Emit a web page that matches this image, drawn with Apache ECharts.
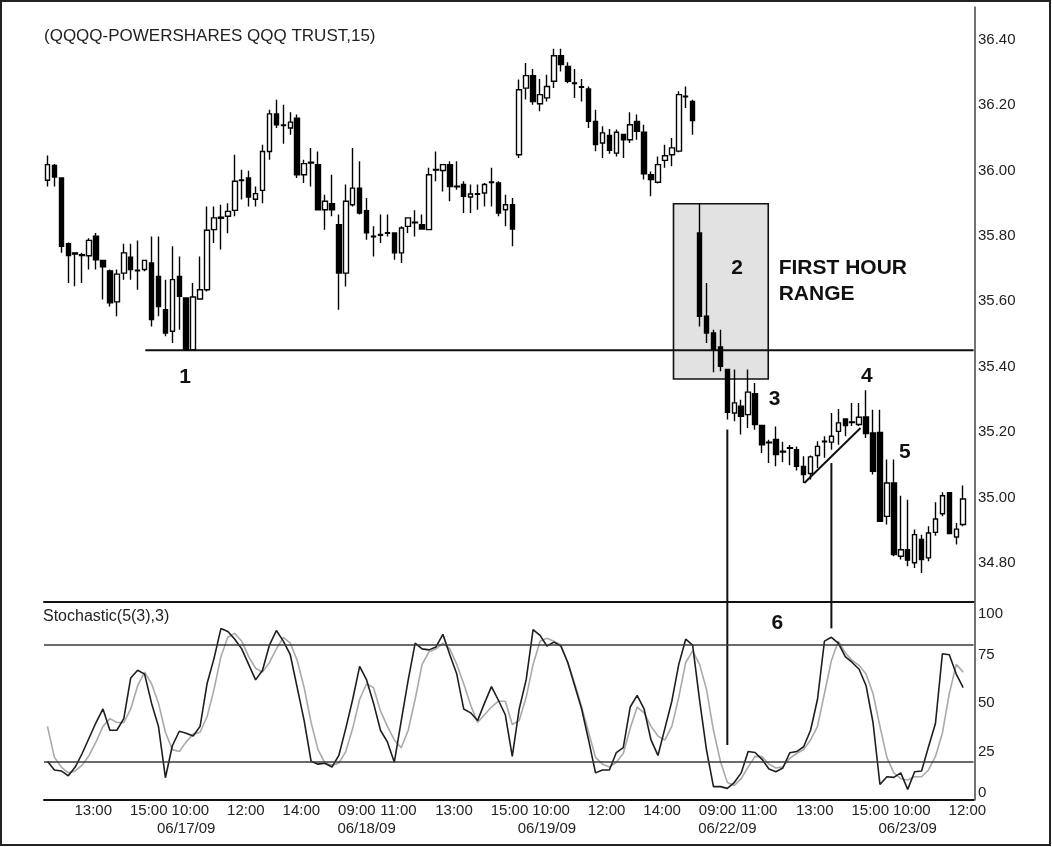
<!DOCTYPE html>
<html><head><meta charset="utf-8">
<script src="https://cdn.jsdelivr.net/npm/echarts@6/dist/echarts.min.js"></script>
<style>html,body{margin:0;padding:0;background:#fff}#c{width:1052px;height:847px}</style>
</head><body><div id="c"></div>
<script>
// ---- data (15-minute bars, [open, close, low, high]) ----
const ohlc = [
[35.970,36.018,35.951,36.046],[36.015,35.980,35.951,36.020],[35.977,35.768,35.748,35.977],[35.776,35.740,35.656,35.780],
[35.748,35.744,35.646,35.750],[35.742,35.740,35.656,35.748],[35.739,35.786,35.697,35.793],[35.799,35.727,35.697,35.809],
[35.725,35.705,35.605,35.727],[35.693,35.595,35.584,35.697],[35.598,35.683,35.554,35.697],[35.686,35.748,35.666,35.776],
[35.735,35.697,35.666,35.776],[35.695,35.693,35.635,35.786],[35.697,35.725,35.692,35.727],[35.717,35.544,35.523,35.798],
[35.676,35.584,35.554,35.798],[35.574,35.503,35.493,35.666],[35.508,35.666,35.472,35.768],[35.676,35.615,35.513,35.737],
[35.610,35.452,35.452,35.612],[35.452,35.613,35.452,35.656],[35.607,35.635,35.605,35.737],[35.635,35.817,35.630,35.890],
[35.819,35.855,35.778,35.890],[35.857,35.854,35.758,35.895],[35.860,35.875,35.808,35.900],[35.878,35.967,35.860,36.048],
[35.971,35.969,35.911,36.002],[35.977,35.919,35.890,35.999],[35.912,35.929,35.890,35.951],[35.939,36.058,35.900,36.079],
[36.058,36.173,36.033,36.186],[36.173,36.140,36.130,36.216],[36.139,36.137,36.082,36.201],[36.130,36.148,36.109,36.178],
[36.160,35.987,35.977,36.171],[35.987,36.021,35.962,36.033],[36.025,36.023,35.951,36.069],[36.018,35.880,35.880,36.058],
[35.880,35.906,35.819,35.926],[35.898,35.880,35.860,35.987],[35.834,35.686,35.574,35.865],[35.686,35.906,35.645,35.957],
[35.895,35.946,35.890,36.069],[35.946,35.870,35.865,36.028],[35.877,35.809,35.788,35.916],[35.799,35.797,35.737,35.829],
[35.802,35.804,35.778,35.865],[35.808,35.810,35.798,35.865],[35.809,35.748,35.727,35.809],[35.748,35.824,35.717,35.829],
[35.829,35.855,35.809,35.855],[35.842,35.840,35.798,35.878],[35.834,35.821,35.821,35.865],[35.819,35.987,35.819,36.008],
[36.003,36.001,35.967,36.058],[36.000,36.018,35.936,36.018],[36.018,35.951,35.906,36.028],[35.952,35.950,35.941,36.028],
[35.957,35.921,35.870,35.967],[35.919,35.928,35.870,35.957],[35.929,35.927,35.880,35.957],[35.931,35.957,35.890,35.962],
[35.963,35.965,35.890,36.008],[35.962,35.870,35.860,35.967],[35.880,35.895,35.829,35.926],[35.895,35.821,35.768,35.916],
[36.048,36.247,36.038,36.278],[36.252,36.290,36.217,36.329],[36.290,36.211,36.201,36.310],[36.204,36.232,36.181,36.280],
[36.222,36.257,36.211,36.293],[36.273,36.351,36.252,36.372],[36.351,36.324,36.303,36.372],[36.318,36.273,36.267,36.331],
[36.268,36.266,36.222,36.310],[36.256,36.254,36.211,36.280],[36.249,36.150,36.130,36.257],[36.150,36.079,36.059,36.186],
[36.084,36.115,36.038,36.135],[36.107,36.062,36.051,36.127],[36.053,36.117,36.043,36.125],[36.110,36.094,36.038,36.110],
[36.094,36.140,36.084,36.178],[36.150,36.120,36.094,36.171],[36.117,35.990,35.972,36.140],[35.987,35.972,35.921,35.997],
[35.964,36.018,35.960,36.043],[36.031,36.045,36.008,36.079],[36.048,36.069,36.013,36.099],[36.059,36.232,36.056,36.242],
[36.227,36.225,36.191,36.257],[36.211,36.153,36.109,36.216],[35.809,35.554,35.523,35.898],[35.554,35.503,35.472,35.656],
[35.503,35.452,35.383,35.513],[35.460,35.401,35.386,35.513],[35.391,35.260,35.238,35.391],[35.258,35.289,35.233,35.391],
[35.279,35.248,35.192,35.299],[35.253,35.322,35.212,35.391],[35.317,35.223,35.207,35.350],[35.220,35.161,35.136,35.220],
[35.169,35.167,35.105,35.176],[35.177,35.131,35.095,35.217],[35.141,35.139,35.108,35.170],[35.152,35.150,35.098,35.160],
[35.146,35.095,35.082,35.156],[35.095,35.070,35.044,35.126],[35.073,35.124,35.055,35.128],[35.128,35.156,35.090,35.172],
[35.172,35.170,35.121,35.187],[35.169,35.187,35.146,35.258],[35.202,35.228,35.161,35.270],[35.240,35.220,35.187,35.240],
[35.231,35.229,35.218,35.289],[35.223,35.245,35.218,35.289],[35.246,35.195,35.182,35.328],[35.197,35.080,35.070,35.268],
[35.199,34.927,34.927,35.268],[34.942,35.044,34.917,35.116],[35.044,34.825,34.820,35.116],[34.820,34.840,34.810,35.005],
[34.840,34.808,34.789,34.993],[34.800,34.886,34.784,34.902],[34.871,34.810,34.769,34.886],[34.815,34.891,34.805,34.912],
[34.893,34.934,34.883,34.985],[34.950,35.005,34.942,35.016],[35.014,34.889,34.889,35.014],[34.879,34.903,34.856,34.922],
[34.917,34.995,34.912,35.036]
];
const stochK = [20,15.5,15,12.5,17,24,32,40,47,36,36,42,63,67,65,50,38,11.5,28,35.5,34.5,33,38,60,73,88.5,87,83,78,70,62,67,80,87.5,82,75,58,41,20,18.5,19,17,23,37,52,69,62,
50,36,30,19.5,41,62,81,78,77.5,79,85.5,75,65,47,45,41,50,58.5,51.5,44,22.5,47,62,88,85,79.5,81.5,79.5,71,59,47,31,14,15.5,15.5,24.5,27,48,54,47,31,23,37,51,70,83,80,
51.6,25.8,6.9,6.9,6,9,14,25,24.5,21,16,14.6,16.5,24.4,25,27.5,36,52,82,84,81,74,71,67.5,59,40,8,12,11.7,14,5.5,14.6,15,27.5,39.5,75.5,75,65,58];
const stochD = [38,22,17,14,15,18,23,30,38,42,40,40,47,59,66,60,50,35,26,25,30,34,35,43,57,74,84,86,82,74,68,66,71,78,84,81,72,58,40,26,19,18,19,25,37,52,60,
58,46,38,31,27,36,52,70,76.5,78,81,78,70,60,49,40,44,48,51,51,39,41,53,70,82,83.5,82,80,71,60,48,35,22,18.5,17,19.5,24,37,48,45,38,33,31,38,53,71,77,
70,57,36,20,9,7.5,11,17,22.5,22.4,18.5,16.5,17.2,21.5,24,26,31,38,55,72,82,76,72,69.5,65,55,38,22,14,11,10.3,12,12,15.5,22.5,34.5,55,70,66];
const priceTicks = [34.8,35.0,35.2,35.4,35.6,35.8,36.0,36.2,36.4];
const stochTicks = [0,25,50,75,100];
const stochLevels = [80,20];
const timeTickBars = [6,14,20,28,36,44,50,58,66,72,80,88,96,102,110,118,124,132];
const timeTickLabels = ['13:00','15:00','10:00','12:00','14:00','09:00','11:00','13:00','15:00','10:00','12:00','14:00','09:00','11:00','13:00','15:00','10:00','12:00'];
const dateTickBars = [20,46,72,98,124];
const dateTickLabels = ['06/17/09','06/18/09','06/19/09','06/22/09','06/23/09'];
// annotations (bar index, price / stochastic value)
const supportLine = [[14.1,35.45],[133.5,35.45]];
const firstHourBox = [[90.24,35.898],[103.9,35.362]];
const trendLine = [[109.1,35.044],[117.2,35.2125]];
const markerBars = [98,113];
const markerPriceTop = [35.2075,35.105];
const markerStochEnd = [28.4,88.6];
const priceNotes = [['1',19.85,35.369,'center'],['2',99.4,35.700,'center'],['FIRST HOUR',105.4,35.700,'left'],['RANGE',105.4,35.623,'left'],['3',104.8,35.299,'center'],['4',118.1,35.372,'center'],['5',123.6,35.138,'center']];
const stochNotes = [['6',105.2,91.2,'center']];

const PMIN = 34.68, PMAX = 36.50, SMAX = 101.7, NCAT = 134;
const cats = Array.from({length: NCAT}, (_, i) => String(i));
const TICK_SHIFT = 0.6;
const FONT = '"Liberation Sans", Arial, Helvetica, sans-serif';

const chart = echarts.init(document.getElementById('c'));
const gridL = 44, gridW = 929.6;
function seg(pts, xi, yi, w, z) {
  return {type: 'line', xAxisIndex: xi, yAxisIndex: yi, data: pts, symbol: 'none', silent: true, z: z || 4,
    lineStyle: {color: '#111', width: w || 2}, animation: false};
}
const series = [
  {type: 'line', xAxisIndex: 1, yAxisIndex: 0, data: [], symbol: 'none', z: 1, silent: true,
    markArea: {silent: true, itemStyle: {color: '#e2e2e2', borderColor: '#111', borderWidth: 1.6},
      data: [[{coord: firstHourBox[0]}, {coord: firstHourBox[1]}]]}},
  seg(supportLine, 1, 0, 2, 2),
  {type: 'candlestick', xAxisIndex: 0, yAxisIndex: 0, data: ohlc, barWidth: 5, z: 3,
    itemStyle: {color: '#ffffff', color0: '#000000', borderColor: '#000', borderColor0: '#000', borderColorDoji: '#000', borderWidth: 1.4}},
  seg(trendLine, 1, 0, 2),
  {type: 'line', xAxisIndex: 2, yAxisIndex: 1, data: stochD.map((v, i) => [i, v]), symbol: 'none', z: 3,
    lineStyle: {color: '#a9a9a9', width: 1.6},
    markLine: {silent: true, symbol: 'none', label: {show: false}, lineStyle: {color: '#3a3a3a', width: 1.6, type: 'solid'},
      data: stochLevels.map(v => ({yAxis: v}))}},
  {type: 'line', xAxisIndex: 2, yAxisIndex: 1, data: stochK.map((v, i) => [i, v]), symbol: 'none', z: 4,
    lineStyle: {color: '#1e1e1e', width: 1.6}}
];
markerBars.forEach((b, i) => {
  series.push(seg([[b, markerPriceTop[i]], [b, PMIN]], 1, 0, 2));
  series.push(seg([[b, SMAX], [b, markerStochEnd[i]]], 2, 1, 2));
});

const axLabel = {color: '#222', fontSize: 15, fontFamily: FONT};
chart.setOption({
  animation: false,
  backgroundColor: '#fff',
  grid: [
    {left: gridL, width: gridW, top: 7, height: 595, outerBoundsMode: 'none'},
    {left: gridL, width: gridW, top: 603, height: 197, outerBoundsMode: 'none'}
  ],
  xAxis: [
    {type: 'category', gridIndex: 0, position: 'bottom', data: cats, boundaryGap: true,
      axisLine: {show: true, onZero: false, lineStyle: {color: '#111', width: 2}}, axisTick: {show: false}, axisLabel: {show: false}, splitLine: {show: false}},
    {type: 'value', gridIndex: 0, position: 'bottom', min: -0.5, max: NCAT - 0.5, show: false, splitLine: {show: false},
      axisLine: {onZero: false}},
    {type: 'value', gridIndex: 1, position: 'bottom', min: -0.5, max: NCAT - 0.5,
      axisLine: {show: true, onZero: false, lineStyle: {color: '#111', width: 2}}, axisTick: {show: false}, splitLine: {show: false},
      axisLabel: Object.assign({}, axLabel, {margin: 3, hideOverlap: false, showMinLabel: true, showMaxLabel: true,
        customValues: timeTickBars.map(b => b + TICK_SHIFT),
        formatter: v => { const i = timeTickBars.findIndex(b => Math.abs(b + TICK_SHIFT - v) < 0.01); return i >= 0 ? timeTickLabels[i] : ''; }})},
    {type: 'value', gridIndex: 1, position: 'bottom', min: -0.5, max: NCAT - 0.5,
      axisLine: {show: false, onZero: false}, axisTick: {show: false}, splitLine: {show: false},
      axisLabel: Object.assign({}, axLabel, {margin: 21, hideOverlap: false,
        customValues: dateTickBars.slice(),
        formatter: v => { const i = dateTickBars.findIndex(b => Math.abs(b - v) < 0.01); return i >= 0 ? dateTickLabels[i] : ''; }})}
  ],
  yAxis: [
    {type: 'value', gridIndex: 0, position: 'right', offset: 1.4, min: PMIN, max: PMAX, scale: true,
      axisLine: {show: true, onZero: false, lineStyle: {color: '#444', width: 1.5}}, axisTick: {show: false}, splitLine: {show: false},
      axisLabel: Object.assign({}, axLabel, {margin: 3, customValues: priceTicks, formatter: v => v.toFixed(2)})},
    {type: 'value', gridIndex: 1, position: 'right', offset: 1.4, min: 0, max: SMAX,
      axisLine: {show: true, onZero: false, lineStyle: {color: '#444', width: 1.5}}, axisTick: {show: false}, splitLine: {show: false},
      axisLabel: Object.assign({}, axLabel, {margin: 3, customValues: stochTicks,
        verticalAlignMinLabel: 'bottom', verticalAlignMaxLabel: 'top', formatter: v => String(Math.round(v))})}
  ],
  series: series
});

// text annotations positioned through the axes
const g = [
  {type: 'rect', shape: {x: 1, y: 1, width: 1049, height: 844}, style: {fill: 'none', stroke: '#222', lineWidth: 2}, silent: true},
  {type: 'text', x: 44, y: 36, style: {text: '(QQQQ-POWERSHARES QQQ TRUST,15)', font: '17px ' + FONT, fill: '#222', align: 'left', verticalAlign: 'middle'}},
  {type: 'text', x: 43, y: 617, style: {text: 'Stochastic(5(3),3)', font: '16px ' + FONT, fill: '#222', align: 'left', verticalAlign: 'middle'}}
];
priceNotes.forEach(n => {
  const p = chart.convertToPixel({xAxisIndex: 1, yAxisIndex: 0}, [n[1], n[2]]);
  g.push({type: 'text', x: p[0], y: p[1], style: {text: n[0], font: 'bold 21px ' + FONT, fill: '#111', align: n[3], verticalAlign: 'middle'}, z: 10});
});
stochNotes.forEach(n => {
  const p = chart.convertToPixel({xAxisIndex: 2, yAxisIndex: 1}, [n[1], n[2]]);
  g.push({type: 'text', x: p[0], y: p[1], style: {text: n[0], font: 'bold 21px ' + FONT, fill: '#111', align: n[3], verticalAlign: 'middle'}, z: 10});
});
chart.setOption({graphic: g});
</script></body></html>
